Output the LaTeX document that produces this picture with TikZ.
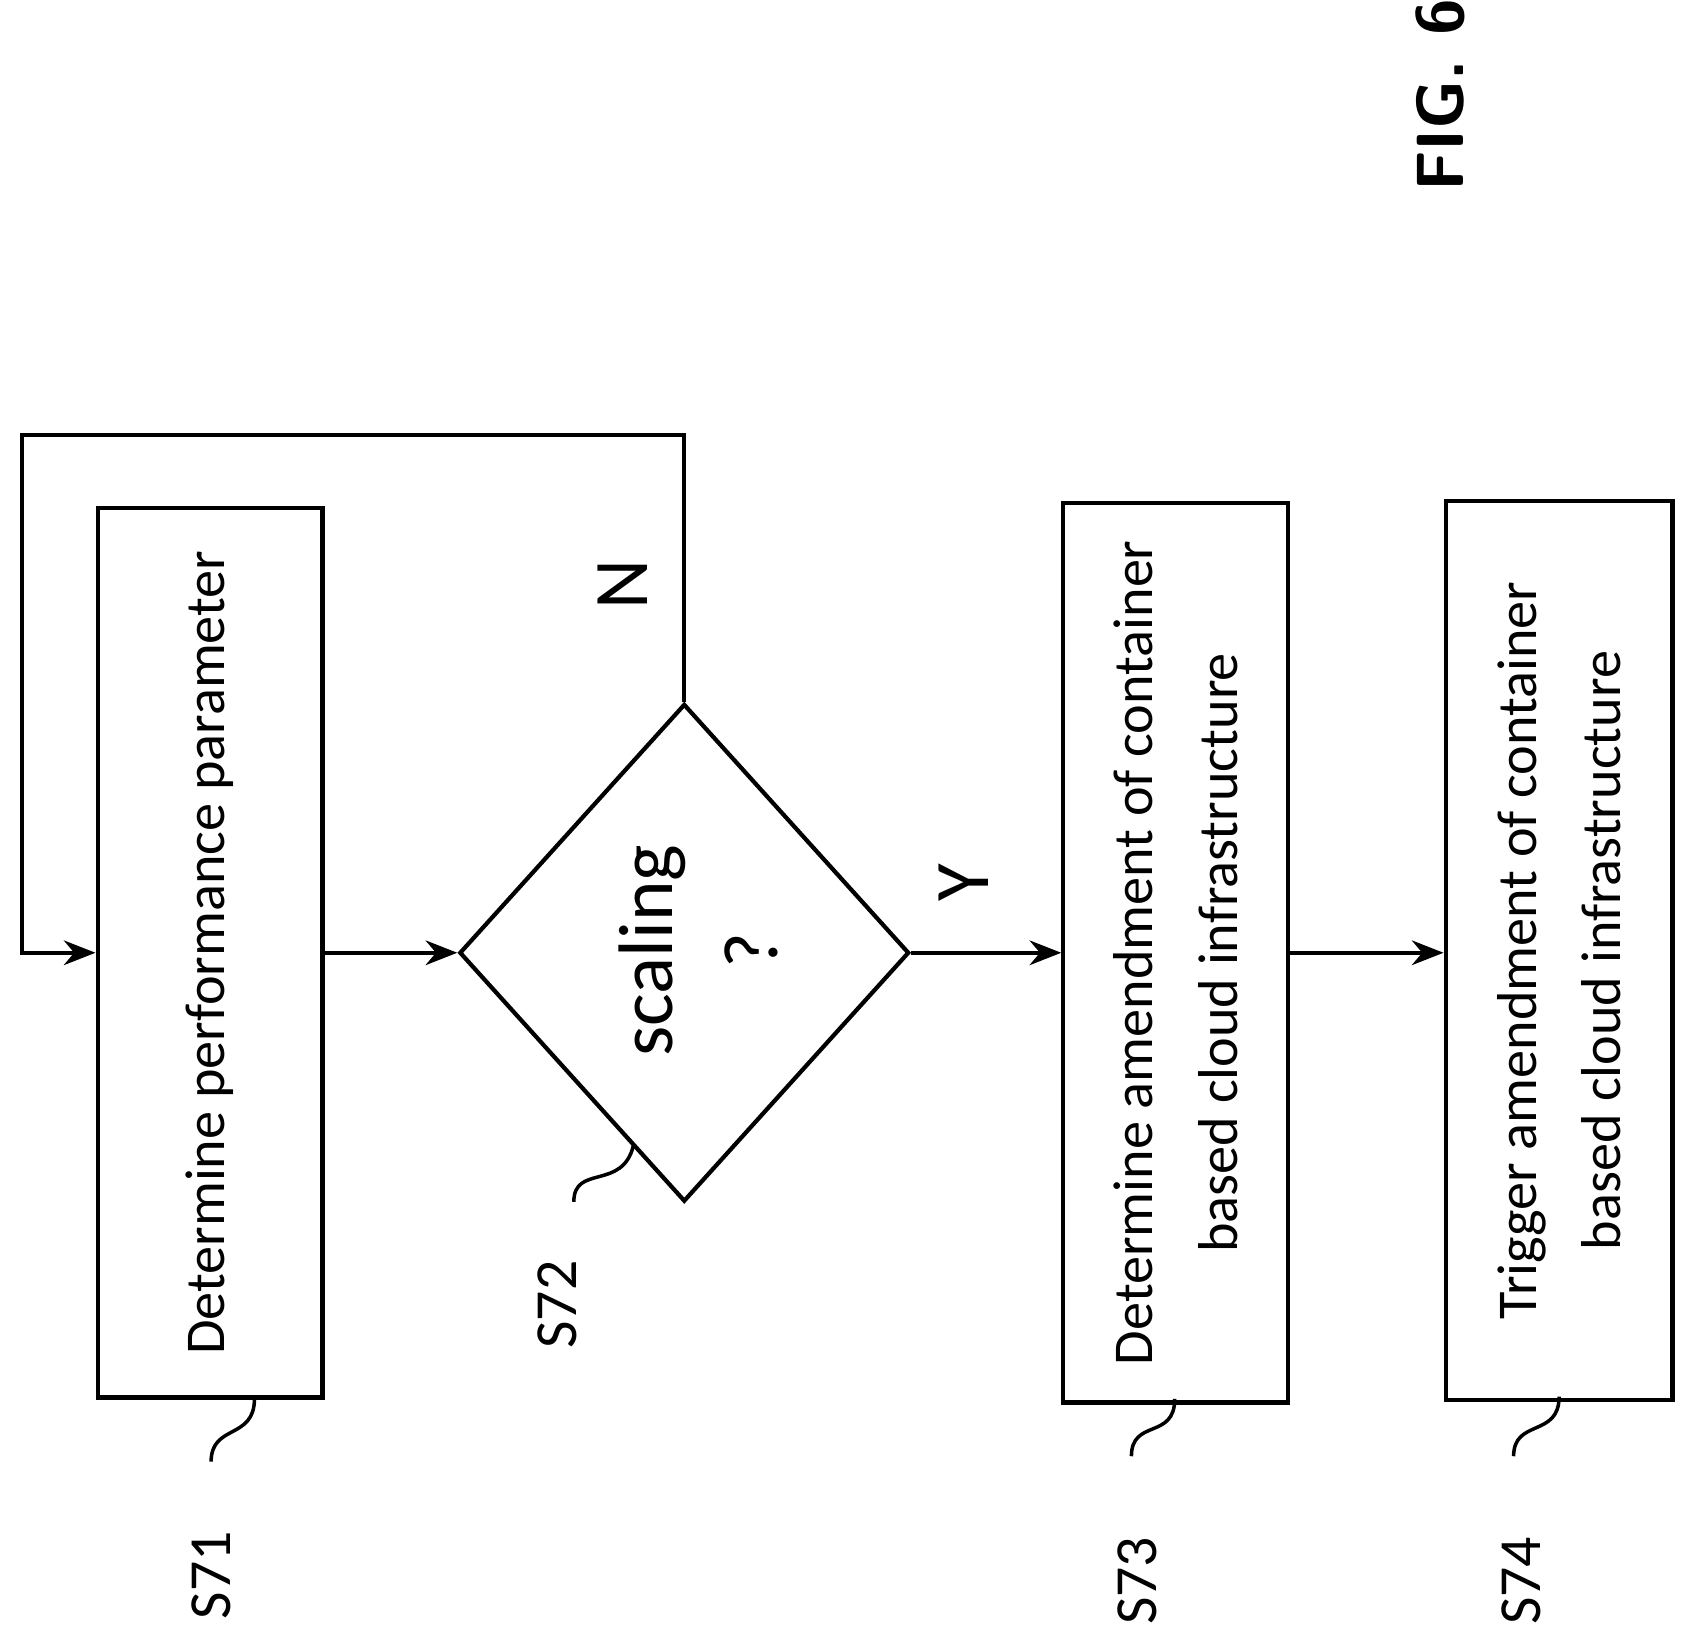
\documentclass[tikz,border=0pt]{standalone}
\usepackage{fontspec}
\setmainfont{Carlito}
\usetikzlibrary{arrows.meta,shapes.geometric}

\begin{document}
\begin{tikzpicture}[
    x=0.01083cm, y=-0.01083cm,
    line width=1.2pt,
    step box/.style={draw, minimum width=#1, rotate=90, font=\fontsize{16}{24}\selectfont, align=center},
    flow/.style={-{Stealth[length=9pt,width=7pt]}},
    ref label/.style={rotate=90, font=\fontsize{17}{20}\selectfont},
    squiggle/.style={line width=1pt}
]
\useasboundingbox (0,0) rectangle (1560,1515);

% Steps
\node[step box=8.9cm, minimum height=2.25cm] (S71) at (194,880) {Determine performance parameter};
\node[draw, diamond, minimum width=4.5cm, minimum height=4.98cm, inner sep=0pt] (S72) at (632,880) {};
\node[rotate=90, font=\fontsize{22}{30}\selectfont, align=center] (S72text) at (645,878) {scaling\\?};
\node[step box=9.0cm, minimum height=2.25cm] (S73) at (1086,880) {Determine amendment of container\\based cloud infrastructure};
\node[step box=9.0cm, minimum height=2.27cm] (S74) at (1440,878) {Trigger amendment of container\\based cloud infrastructure};

% Flow
\draw[flow] (S71.south) -- (S72.west);
\draw[flow] (S72.east) -- (S73.north);
\draw[flow] (S73.south) -- (S73.south -| S74.north);
\coordinate (loopA) at (632,402);
\coordinate (loopB) at (20,402);
\coordinate (loopC) at (20,880);
\draw[flow] (S72.north) -- (loopA) -- (loopB) -- (loopC) -- (S71.north);

% Branch labels
\node[rotate=90, font=\fontsize{22}{24}\selectfont] (lN) at (575,540) {N};
\node[rotate=90, font=\fontsize{22}{24}\selectfont] (lY) at (890,815) {Y};

% Reference labels
\node[ref label] (r71) at (195,1455) {S71};
\node[ref label] (r72) at (515,1205) {S72};
\node[ref label] (r73) at (1050,1460) {S73};
\node[ref label] (r74) at (1405,1460) {S74};
\coordinate (q71) at (235,1292);
\coordinate (q72) at (585,1058);
\coordinate (q73) at (1085,1292);
\coordinate (q74) at (1440,1290);
\draw[squiggle] (q71) .. controls (235,1330) and (195,1315) .. (195,1350);
\draw[squiggle] (q72) .. controls (575,1100) and (530,1075) .. (530,1110);
\draw[squiggle] (q73) .. controls (1085,1330) and (1045,1310) .. (1045,1345);
\draw[squiggle] (q74) .. controls (1440,1328) and (1398,1310) .. (1398,1345);

% Figure title
\node[rotate=90, font=\sffamily\bfseries\fontsize{19}{22}\selectfont] (fig) at (1330,88) {FIG. 6};
\end{tikzpicture}
\end{document}
